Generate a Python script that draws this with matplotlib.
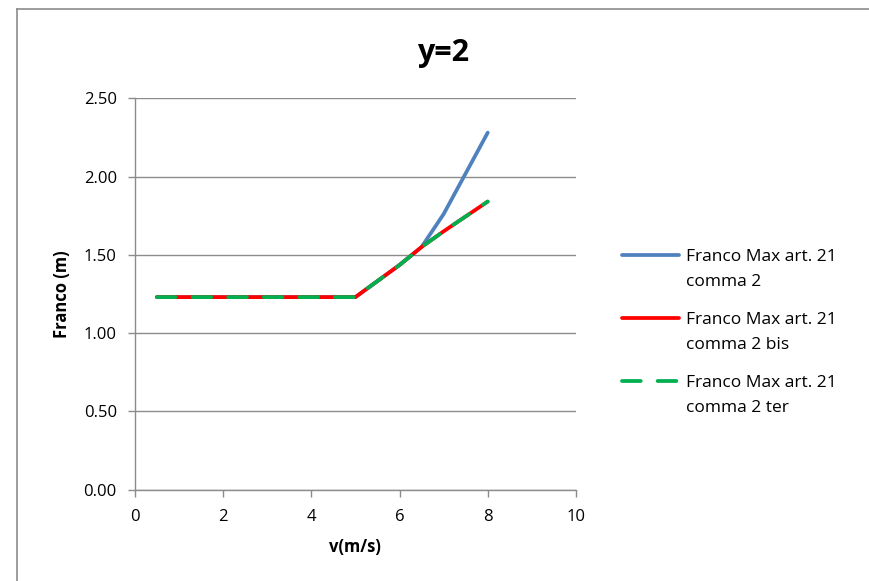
import matplotlib.pyplot as plt
from matplotlib.lines import Line2D

plt.rcParams['font.family'] = ['Open Sans', 'DejaVu Sans']

# data
v = [0.5, 1, 2, 3, 4, 5, 6, 6.5, 7, 8]
franco_c2 = [1.23, 1.23, 1.23, 1.23, 1.23, 1.23, 1.435, 1.55, 1.76, 2.28]
franco_c2_bis = [1.23, 1.23, 1.23, 1.23, 1.23, 1.23, 1.435, 1.55, 1.65, 1.84]
franco_c2_ter = [1.23, 1.23, 1.23, 1.23, 1.23, 1.23, 1.435, 1.55, 1.65, 1.84]
labels = ['Franco Max art. 21\ncomma 2',
          'Franco Max art. 21\ncomma 2 bis',
          'Franco Max art. 21\ncomma 2 ter']
x_ticks = [0, 2, 4, 6, 8, 10]
y_ticks = [0.0, 0.5, 1.0, 1.5, 2.0, 2.5]

fig = plt.figure(figsize=(8.7, 5.81), dpi=100)
ax = fig.add_axes([0.155, 0.157, 0.507, 0.674])

# chart frame (outer gray border, only top/left visible)
fig.add_artist(Line2D([0.0195, 0.0195], [0, 0.985], transform=fig.transFigure, color='#8c8c8c', lw=1.2))
fig.add_artist(Line2D([0.0195, 1], [0.985, 0.985], transform=fig.transFigure, color='#8c8c8c', lw=1.2))

l1, = ax.plot(v, franco_c2, color='#4F81BD', lw=2.7, solid_capstyle='round')
l2, = ax.plot(v, franco_c2_bis, color='#FF0000', lw=2.7, solid_capstyle='round')
l3, = ax.plot(v, franco_c2_ter, color='#00B050', lw=2.7, dashes=(5, 4.5), dash_capstyle='round')

ax.set_xlim(0, 10)
ax.set_ylim(0, 2.5)
ax.set_xticks(x_ticks)
ax.set_yticks(y_ticks)
ax.set_yticklabels(['%.2f' % t for t in y_ticks])
ax.grid(axis='y', color='#8c8c8c', lw=1.0)
ax.set_axisbelow(True)
for s in ['top', 'right']:
    ax.spines[s].set_visible(False)
for s in ['left', 'bottom']:
    ax.spines[s].set_color('#8c8c8c')
    ax.spines[s].set_linewidth(1.0)
ax.tick_params(axis='both', colors='#8c8c8c', labelcolor='black', labelsize=12, length=5, width=1.0)
ax.tick_params(axis='x', pad=9)
ax.tick_params(axis='y', pad=8)

fig.text(0.509, 0.908, 'y=2', fontsize=22, fontweight='bold', ha='center', va='center')
ax.set_xlabel('v(m/s)', fontsize=12, fontweight='bold', labelpad=9)
ax.set_ylabel('Franco (m)', fontsize=12, fontweight='bold', labelpad=9)

# legend drawn by hand: handle level with the first text line, as in Excel
row_y = [255, 318, 381]
for line, lab, y in zip([l1, l2, l3], labels, row_y):
    fy = 1 - y / 581
    h = Line2D([622 / 870, 679 / 870], [fy, fy], transform=fig.transFigure,
               color=line.get_color(), lw=2.7, solid_capstyle='round')
    if line is l3:
        h.set_dashes((5, 4.5))
        h.set_dash_capstyle('round')
    fig.add_artist(h)
    fig.text(686 / 870, 1 - (y - 6) / 581, lab, fontsize=12.5, va='top', ha='left', linespacing=1.72)

plt.savefig('out.png', dpi=100)
